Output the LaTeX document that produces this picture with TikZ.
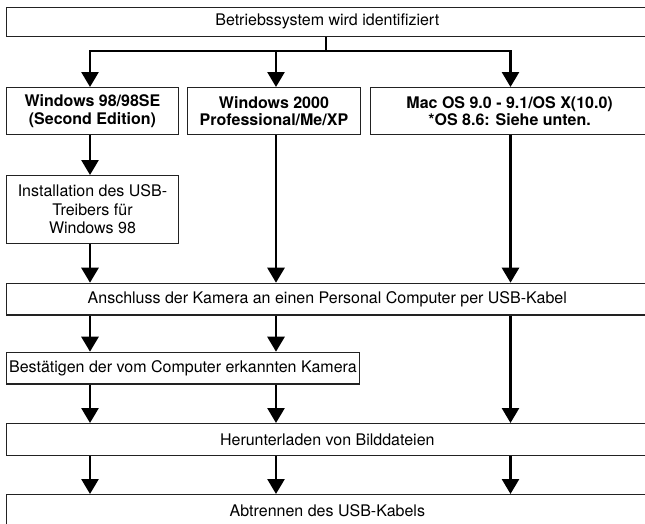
\documentclass[tikz,border=0pt]{standalone}
\usepackage{fontspec}
\setmainfont{TeX Gyre Heros}
\usetikzlibrary{arrows.meta}
\definecolor{boxline}{HTML}{222222}
\begin{document}
\begin{tikzpicture}[x=1pt,y=-1pt,
  box/.style={draw=boxline, line width=1.2pt, inner sep=0pt, anchor=north west, align=center,
    font=\fontsize{16}{18.5}\selectfont},
  bbox/.style={box, font=\fontsize{16}{17.5}\selectfont\bfseries},
  conn/.style={line width=2.7pt, -{Triangle[length=15pt,width=17pt]}},
  link/.style={line width=2.7pt}]
\clip (0,0) rectangle (645,523);
\node[box, minimum width=642pt, minimum height=29pt] (top) at (5.7,6.7) {Betriebssystem wird identifiziert};
\node[bbox, minimum width=172.3pt, minimum height=47pt] (w98) at (5.7,87) {Windows 98/98SE\\(Second Edition)};
\node[bbox, minimum width=173.3pt, minimum height=47pt] (w2k) at (186.7,87) {Windows 2000\\Professional/Me/XP};
\node[bbox, minimum width=278pt, minimum height=47pt] (mac) at (370,87) {Mac OS 9.0 - 9.1/OS X(10.0)\\*OS 8.6: Siehe unten.};
\node[box, minimum width=172.3pt, minimum height=67.7pt] (inst) at (5.7,175) {Installation des USB-\\Treibers für\\Windows 98};
\node[box, minimum width=642pt, minimum height=31.6pt] (ansch) at (5.7,282.7) {Anschluss der Kamera an einen Personal Computer per USB-Kabel};
\node[box, minimum width=353.3pt, minimum height=31.6pt] (best) at (5.7,351.7) {Bestätigen der vom Computer erkannten Kamera};
\node[box, minimum width=642pt, minimum height=32pt] (herunt) at (5.7,423) {Herunterladen von Bilddateien};
\node[box, minimum width=642pt, minimum height=32pt] (abtr) at (5.7,494) {Abtrennen des USB-Kabels};
\coordinate (c1) at (90,0);
\coordinate (c2) at (276,0);
\coordinate (c3) at (510.5,0);
\coordinate (j) at (326,51);
\coordinate (j2) at (276,51);
\draw[link] (top.south -| j) -- (j);
\draw[conn] (j) -| (w98.north -| c1);
\draw[conn] (j) -| (mac.north -| c3);
\draw[conn] (j2) -- (w2k.north -| c2);
\draw[conn] (w98.south -| c1) -- (inst.north -| c1);
\draw[conn] (inst.south -| c1) -- (ansch.north -| c1);
\draw[conn] (w2k.south -| c2) -- (ansch.north -| c2);
\draw[conn] (mac.south -| c3) -- (ansch.north -| c3);
\draw[conn] (ansch.south -| c1) -- (best.north -| c1);
\draw[conn] (ansch.south -| c2) -- (best.north -| c2);
\draw[conn] (ansch.south -| c3) -- (herunt.north -| c3);
\draw[conn] (best.south -| c1) -- (herunt.north -| c1);
\draw[conn] (best.south -| c2) -- (herunt.north -| c2);
\draw[conn] (herunt.south -| c1) -- (abtr.north -| c1);
\draw[conn] (herunt.south -| c2) -- (abtr.north -| c2);
\draw[conn] (herunt.south -| c3) -- (abtr.north -| c3);
\end{tikzpicture}
\end{document}
